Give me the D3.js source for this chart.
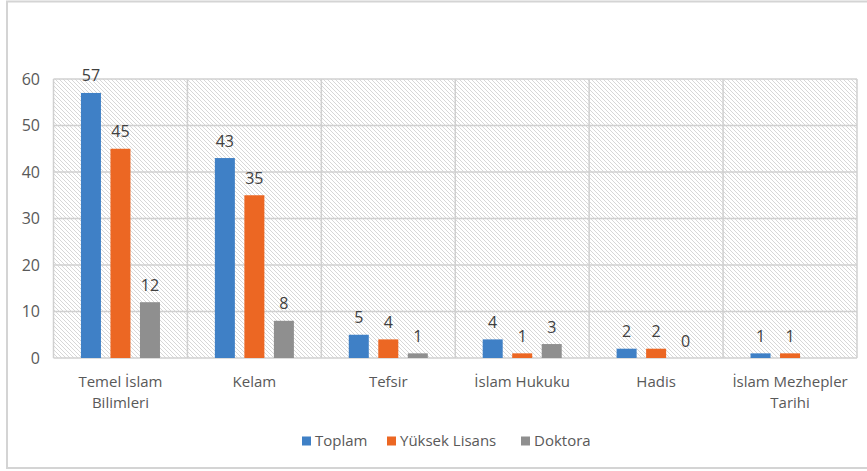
<!DOCTYPE html>
<html><head><meta charset="utf-8">
<script src="https://cdn.jsdelivr.net/npm/d3@7"></script>
<style>body{margin:0;background:#fff}svg{display:block}text{font-family:"Open Sans",sans-serif;fill:#595959}</style>
</head><body><svg id="c" width="867" height="471"></svg>
<script>
const categories = ["Temel İslam Bilimleri","Kelam","Tefsir","İslam Hukuku","Hadis","İslam Mezhepler Tarihi"];
const categoryLines = [["Temel İslam","Bilimleri"],["Kelam"],["Tefsir"],["İslam Hukuku"],["Hadis"],["İslam Mezhepler","Tarihi"]];
const seriesNames = ["Toplam","Yüksek Lisans","Doktora"];
const toplam = [57,43,5,4,2,1];
const yuksekLisans = [45,35,4,1,2,1];
const doktora = [12,8,1,3,0,null];
const yTicks = [0,10,20,30,40,50,60];
const colors = ["#3f80c6","#ec6723","#8f8f8f"];
const seriesValues = [toplam, yuksekLisans, doktora];

(function(){
const svg = d3.select("#c");
const defs = svg.append("defs");
const pat = defs.append("pattern").attr("id","hatch").attr("patternUnits","userSpaceOnUse")
  .attr("width",4).attr("height",4);
pat.append("rect").attr("width",4).attr("height",4).attr("fill","#fff");
pat.append("path").attr("d","M-1,-1L5,5M-1,3L1,5M3,-1L5,1").attr("stroke","#d2d2d2").attr("stroke-width",0.9);

// outer frame
svg.append("rect").attr("x",7).attr("y",1.5).attr("width",880).attr("height",466.5)
  .attr("fill","none").attr("stroke","#d4d4d4").attr("stroke-width",2);

const pl=53.5, pr=857, pt=79, pb=358;
const x0 = d3.scaleBand().domain(categories).range([pl,pr]).padding(0);
const x1 = d3.scaleBand().domain(seriesNames).range([0,x0.bandwidth()]).paddingInner(0.322).paddingOuter(0.93);
const y = d3.scaleLinear().domain([0,60]).range([pb,pt]);

svg.append("rect").attr("x",pl).attr("y",pt).attr("width",pr-pl).attr("height",pb-pt).attr("fill","url(#hatch)");

// grid
svg.append("g").selectAll("line").data(yTicks).join("line")
  .attr("x1",pl).attr("x2",pr).attr("y1",d=>y(d)).attr("y2",d=>y(d))
  .attr("stroke","#d0d0d0").attr("stroke-width",1.5);
const bounds = categories.map(c=>x0(c)).concat([pr]);
svg.append("g").selectAll("line").data(bounds).join("line")
  .attr("x1",d=>d).attr("x2",d=>d).attr("y1",pt).attr("y2",pb)
  .attr("stroke","#d0d0d0").attr("stroke-width",1.5);

// y labels
svg.append("g").selectAll("text").data(yTicks).join("text")
  .attr("x",40).attr("y",d=>y(d)).attr("dy","0.36em").attr("text-anchor","end")
  .attr("font-size",16).text(d=>d);

// bars
seriesNames.forEach((s,si)=>{
  const g = svg.append("g");
  const data = categories.map((c,i)=>({c,v:seriesValues[si][i]})).filter(d=>d.v!==null);
  g.selectAll("rect").data(data).join("rect")
    .attr("x",d=>x0(d.c)+x1(s)).attr("width",x1.bandwidth())
    .attr("y",d=>y(d.v)).attr("height",d=>y(0)-y(d.v)).attr("fill",colors[si]);
  g.selectAll("text").data(data).join("text")
    .attr("x",d=>x0(d.c)+x1(s)+x1.bandwidth()/2).attr("y",d=>y(d.v)-11.5)
    .attr("text-anchor","middle").attr("font-size",16).style("fill","#404040").text(d=>d.v);
});

// category labels
const cl = svg.append("g").selectAll("text").data(categories).join("text")
  .attr("text-anchor","middle").attr("font-size",15)
  .attr("x",d=>x0(d)+x0.bandwidth()/2).attr("y",387);
cl.each(function(d,i){
  const t=d3.select(this);
  categoryLines[i].forEach((ln,j)=>{
    t.append("tspan").attr("x",x0(d)+x0.bandwidth()/2).attr("y",387+j*21).text(ln);
  });
});

// legend
const legX = [302,387,521];
const lg = svg.append("g");
seriesNames.forEach((s,i)=>{
  lg.append("rect").attr("x",legX[i]).attr("y",436.5).attr("width",9).attr("height",9).attr("fill",colors[i]);
  lg.append("text").attr("x",legX[i]+13).attr("y",446).attr("font-size",15).text(s);
});
})();
</script></body></html>
